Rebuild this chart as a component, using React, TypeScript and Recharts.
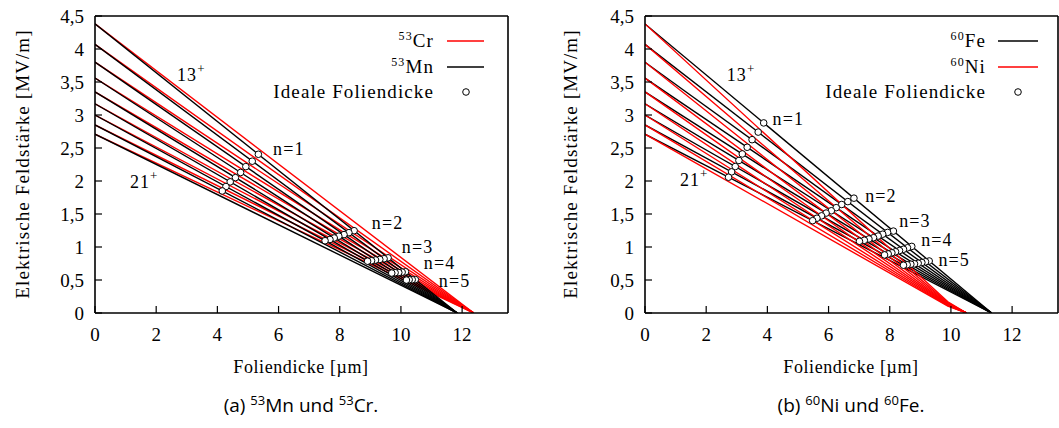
import { ComposedChart, Line, Scatter, XAxis, YAxis, ReferenceDot } from "recharts"

const chargeStates = ["13", "14", "15", "16", "17", "18", "19", "20", "21"]

// Feldstärke bei Foliendicke 0 [MV/m], je Ladungszustand
const fieldStartA = [4.38, 4.07, 3.8, 3.56, 3.35, 3.17, 3.0, 2.85, 2.71]
const fieldStartB = [4.38, 4.07, 3.8, 3.56, 3.35, 3.17, 3.0, 2.85, 2.71]

// Foliendicke, bei der die Feldstärke 0 erreicht [µm]
const rangeCr = [12.38, 12.38, 12.38, 12.38, 12.38, 12.38, 12.38, 12.38, 12.38]
const rangeMn = [11.84, 11.84, 11.84, 11.84, 11.84, 11.84, 11.84, 11.84, 11.84]
const rangeFe = [11.33, 11.33, 11.33, 11.33, 11.33, 11.33, 11.33, 11.33, 11.33]
const rangeNi = [10.51, 10.51, 10.51, 10.51, 10.51, 10.51, 10.51, 10.51, 10.51]
// Knick der 60Ni-Kurven kurz vor dem Ende
const kinkNiX = [9.9, 9.9, 9.9, 9.9, 9.9, 9.9, 9.9, 9.9, 9.9]
const kinkNiY = [0.17, 0.158, 0.148, 0.138, 0.13, 0.123, 0.116, 0.11, 0.105]

// Ideale Foliendicke (x, y) für n = 1..5
const idealMn = [
  [[5.34, 2.405], [5.14, 2.3], [4.93, 2.218], [4.76, 2.129], [4.59, 2.051], [4.42, 1.987], [4.28, 1.916], [4.16, 1.849]],
  [[8.47, 1.247], [8.3, 1.217], [8.14, 1.188], [7.97, 1.164], [7.82, 1.137], [7.68, 1.114], [7.52, 1.095]],
  [[9.58, 0.836], [9.45, 0.822], [9.31, 0.812], [9.17, 0.803], [9.04, 0.792], [8.91, 0.785]],
  [[10.15, 0.625], [10.04, 0.619], [9.93, 0.613], [9.81, 0.611], [9.7, 0.605]],
  [[10.47, 0.507], [10.37, 0.505], [10.27, 0.504], [10.18, 0.499]],
]
const idealFe = [
  [[3.88, 2.88], [3.7, 2.741], [3.5, 2.626], [3.34, 2.511], [3.18, 2.41], [3.07, 2.311], [2.95, 2.219], [2.83, 2.138], [2.73, 2.057]],
  [[6.83, 1.74], [6.63, 1.688], [6.43, 1.644], [6.25, 1.596], [6.09, 1.549], [5.92, 1.514], [5.77, 1.472], [5.62, 1.436], [5.48, 1.399]],
  [[8.12, 1.241], [7.93, 1.221], [7.77, 1.194], [7.62, 1.166], [7.47, 1.141], [7.32, 1.122], [7.17, 1.102], [7.01, 1.087]],
  [[8.72, 1.009], [8.58, 0.988], [8.45, 0.966], [8.32, 0.946], [8.19, 0.928], [8.07, 0.912], [7.95, 0.895], [7.83, 0.88]],
  [[9.29, 0.788], [9.17, 0.776], [9.05, 0.765], [8.93, 0.754], [8.81, 0.745], [8.69, 0.739], [8.57, 0.731], [8.45, 0.724]],
]

const xTicks = [0, 2, 4, 6, 8, 10, 12]
const yTicks = [0, 0.5, 1, 1.5, 2, 2.5, 3, 3.5, 4, 4.5]

const notesA = [
  { label: "13", sup: "+", x: 2.68, y: 3.6 },
  { label: "21", sup: "+", x: 1.14, y: 1.98 },
  { label: "n=1", sup: "", x: 5.82, y: 2.49 },
  { label: "n=2", sup: "", x: 9.05, y: 1.36 },
  { label: "n=3", sup: "", x: 10.03, y: 1.0 },
  { label: "n=4", sup: "", x: 10.75, y: 0.76 },
  { label: "n=5", sup: "", x: 11.24, y: 0.49 },
]
const notesB = [
  { label: "13", sup: "+", x: 2.67, y: 3.61 },
  { label: "21", sup: "+", x: 1.14, y: 2.01 },
  { label: "n=1", sup: "", x: 4.17, y: 2.94 },
  { label: "n=2", sup: "", x: 7.2, y: 1.78 },
  { label: "n=3", sup: "", x: 8.31, y: 1.39 },
  { label: "n=4", sup: "", x: 9.03, y: 1.1 },
  { label: "n=5", sup: "", x: 9.59, y: 0.81 },
]

const FONT = "'Liberation Serif', 'DejaVu Serif', serif"
const CAPTION_FONT = "'Open Sans', sans-serif"
const RED = "#ff0000"
const BLACK = "#000000"
const SPACING = 1.1

const buildLines = (prefix: string, color: string, starts: number[], ranges: number[], kinkX?: number[], kinkY?: number[]) =>
  chargeStates.map((q, i) => ({
    key: prefix + q,
    color,
    data: [
      { x: 0, y: starts[i] },
      ...(kinkX && kinkY ? [{ x: kinkX[i], y: kinkY[i] }] : []),
      { x: ranges[i], y: 0 },
    ],
  }))

const flatten = (groups: number[][][]) => groups.flat().map(([x, y]) => ({ x, y }))

const fmt = (v: number) => String(v).replace(".", ",")

const Ring = (p: any) => <circle cx={p.cx} cy={p.cy} r={3.3} fill="#fff" stroke="#000" strokeWidth={1} />

function Panel({ width, right, lines, ideal, notes }: any) {
  const tickStyle = { fontFamily: FONT, fontSize: 19, fill: "#000" }
  const axisLine = { stroke: "#000", strokeWidth: 1.6 }
  const tickLine = { stroke: "#000", strokeWidth: 1.2 }
  return (
    <ComposedChart width={width} height={360} margin={{ top: 15, right, bottom: 46, left: 94 }}>
      <XAxis type="number" dataKey="x" domain={[0, 13.5]} ticks={xTicks} height={1} allowDataOverflow
        tickSize={-7} tickMargin={22} tick={tickStyle} axisLine={axisLine} tickLine={tickLine} />
      <XAxis xAxisId="top" orientation="top" type="number" domain={[0, 13.5]} ticks={xTicks} height={1}
        allowDataOverflow tickSize={-7} tick={false} axisLine={axisLine} tickLine={tickLine} />
      <YAxis type="number" domain={[0, 4.5]} ticks={yTicks} width={1} allowDataOverflow tickFormatter={fmt}
        tickSize={-7} tickMargin={18} tick={tickStyle} axisLine={axisLine} tickLine={tickLine} />
      <YAxis yAxisId="right" orientation="right" type="number" domain={[0, 4.5]} ticks={yTicks} width={1}
        allowDataOverflow tickSize={-7} tick={false} axisLine={axisLine} tickLine={tickLine} />
      {lines.map((s: any) => (
        <Line key={s.key} data={s.data} dataKey="y" stroke={s.color} strokeWidth={1.4} dot={false}
          activeDot={false} isAnimationActive={false} />
      ))}
      <Scatter data={ideal} dataKey="y" shape={Ring} isAnimationActive={false} />
      {notes.map((n: any) => (
        <ReferenceDot key={n.label + n.x} x={n.x} y={n.y} r={0}
          shape={(p: any) => (
            <text x={p.cx} y={p.cy} dominantBaseline="central" fontFamily={FONT} fontSize={18}
              letterSpacing={SPACING} fill="#000">
              {n.label}
              {n.sup && <tspan dy={-7} fontSize={13}>{n.sup}</tspan>}
            </text>
          )} />
      ))}
    </ComposedChart>
  )
}

function LegendLabel({ x, y, iso, name }: any) {
  return (
    <text x={x} y={y + 6} textAnchor="end" fontFamily={FONT} fontSize={19} letterSpacing={SPACING} fill="#000">
      <tspan fontSize={12} dy={-7}>{iso}</tspan>
      <tspan dy={7}>{name}</tspan>
    </text>
  )
}

export default function App() {
  const linesA = [
    ...buildLines("cr", RED, fieldStartA, rangeCr),
    ...buildLines("mn", BLACK, fieldStartA, rangeMn),
  ]
  const linesB = [
    ...buildLines("fe", BLACK, fieldStartB, rangeFe),
    ...buildLines("ni", RED, fieldStartB, rangeNi, kinkNiX, kinkNiY),
  ]
  return (
    <div style={{ position: "absolute", left: 0, top: 0, width: 1059, height: 428, overflow: "hidden", background: "#fff" }}>
      <div style={{ position: "absolute", left: 0, top: 0 }}>
        <Panel width={530} right={21} lines={linesA} ideal={flatten(idealMn)} notes={notesA} />
      </div>
      <div style={{ position: "absolute", left: 550, top: 0 }}>
        <Panel width={509} right={0} lines={linesB} ideal={flatten(idealFe)} notes={notesB} />
      </div>
      <svg width={1059} height={428} style={{ position: "absolute", left: 0, top: 0, pointerEvents: "none" }}>
        {/* Achsentitel */}
        <text transform="translate(22,164) rotate(-90)" textAnchor="middle" dominantBaseline="central"
          fontFamily={FONT} fontSize={19} letterSpacing={SPACING}>Elektrische Feldstärke [MV/m]</text>
        <text transform="translate(570,164) rotate(-90)" textAnchor="middle" dominantBaseline="central"
          fontFamily={FONT} fontSize={19} letterSpacing={SPACING}>Elektrische Feldstärke [MV/m]</text>
        <text x={301} y={367} textAnchor="middle" dominantBaseline="central" fontFamily={FONT} fontSize={18}
          letterSpacing={0.6}>Foliendicke [µm]</text>
        <text x={851} y={367} textAnchor="middle" dominantBaseline="central" fontFamily={FONT} fontSize={18}
          letterSpacing={0.6}>Foliendicke [µm]</text>

        {/* Legende (a) */}
        <LegendLabel x={434} y={41} iso="53" name="Cr" />
        <line x1={447} x2={484} y1={41} y2={41} stroke={RED} strokeWidth={1.4} />
        <LegendLabel x={434} y={67} iso="53" name="Mn" />
        <line x1={447} x2={484} y1={67} y2={67} stroke={BLACK} strokeWidth={1.4} />
        <text x={434} y={98} textAnchor="end" fontFamily={FONT} fontSize={19} letterSpacing={SPACING}>Ideale Foliendicke</text>
        <circle cx={466} cy={92} r={3.3} fill="#fff" stroke="#000" />

        {/* Legende (b) */}
        <LegendLabel x={986} y={41} iso="60" name="Fe" />
        <line x1={998} x2={1038} y1={41} y2={41} stroke={BLACK} strokeWidth={1.4} />
        <LegendLabel x={986} y={67} iso="60" name="Ni" />
        <line x1={998} x2={1038} y1={67} y2={67} stroke={RED} strokeWidth={1.4} />
        <text x={986} y={98} textAnchor="end" fontFamily={FONT} fontSize={19} letterSpacing={SPACING}>Ideale Foliendicke</text>
        <circle cx={1018} cy={92} r={3.3} fill="#fff" stroke="#000" />

        {/* Unterschriften */}
        <text x={301} y={412} textAnchor="middle" fontFamily={CAPTION_FONT} fontSize={19}>
          (a) <tspan fontSize={13} dy={-7}>53</tspan><tspan dy={7}>Mn und </tspan>
          <tspan fontSize={13} dy={-7}>53</tspan><tspan dy={7}>Cr.</tspan>
        </text>
        <text x={851} y={412} textAnchor="middle" fontFamily={CAPTION_FONT} fontSize={19}>
          (b) <tspan fontSize={13} dy={-7}>60</tspan><tspan dy={7}>Ni und </tspan>
          <tspan fontSize={13} dy={-7}>60</tspan><tspan dy={7}>Fe.</tspan>
        </text>
      </svg>
    </div>
  )
}
